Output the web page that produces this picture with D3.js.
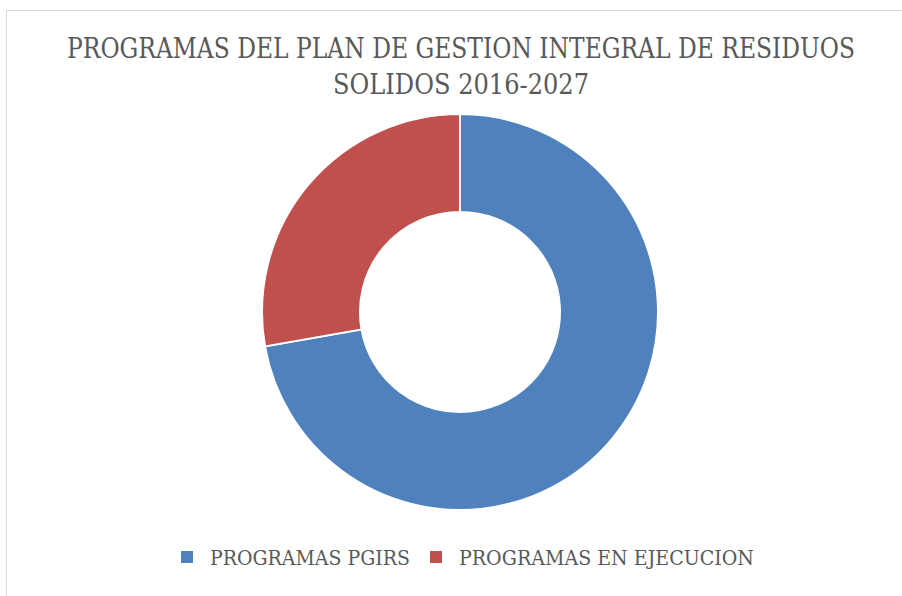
<!DOCTYPE html>
<html><head><meta charset="utf-8">
<script src="https://cdn.jsdelivr.net/npm/d3@7"></script>
<style>html,body{margin:0;padding:0;background:#fff;}</style>
</head><body>
<svg id="c" width="902" height="596"></svg>
<script>
const categories = ["PROGRAMAS PGIRS", "PROGRAMAS EN EJECUCION"];
const values = [13, 5];
const colors = ["#4f81bd", "#c0504d"];
const titleLines = ["PROGRAMAS DEL PLAN DE GESTION INTEGRAL DE RESIDUOS", "SOLIDOS 2016-2027"];

const svg = d3.select("#c");
svg.append("rect").attr("x", 6.5).attr("y", 10.5).attr("width", 900).attr("height", 600)
  .attr("fill", "#fff").attr("stroke", "#d9d9d9").attr("stroke-width", 1);

const font = "'DejaVu Serif Condensed', 'DejaVu Serif', serif";
svg.append("g").selectAll("text").data(titleLines).join("text")
  .attr("transform", (d, i) => `translate(461,${58 + i * 36}) scale(1,1.16)`)
  .attr("text-anchor", "middle").attr("fill", "#595959")
  .style("font-family", font).style("font-size", "24px")
  .attr("textLength", (d, i) => i === 0 ? 788 : 256).attr("lengthAdjust", "spacingAndGlyphs")
  .text(d => d);

const cx = 460, cy = 312, rO = 198, rI = 100;
const pie = d3.pie().sort(null).value(d => d)(values);
const arc = d3.arc().innerRadius(rI).outerRadius(rO);
svg.append("g").attr("transform", `translate(${cx},${cy})`)
  .selectAll("path").data(pie).join("path")
  .attr("d", arc).attr("fill", (d, i) => colors[i])
  .attr("stroke", "#fff").attr("stroke-width", 2);

const legend = svg.append("g");
const lx = [181, 430];
const lw = [200, 295];
categories.forEach((c, i) => {
  legend.append("rect").attr("x", lx[i]).attr("y", 551).attr("width", 12).attr("height", 12).attr("fill", colors[i]);
  legend.append("text").attr("x", lx[i] + 29).attr("y", 565)
    .attr("fill", "#595959").style("font-family", font).style("font-size", "20px")
    .attr("textLength", lw[i]).attr("lengthAdjust", "spacingAndGlyphs")
    .text(c);
});
</script>
</body></html>
